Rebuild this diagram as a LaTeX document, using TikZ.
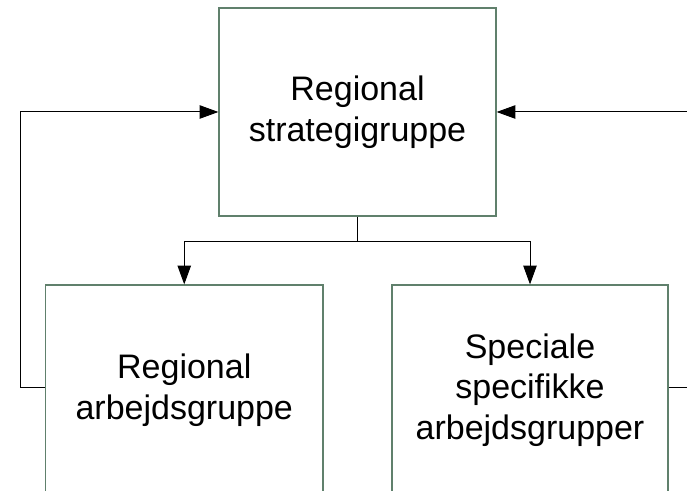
\documentclass[tikz,border=0pt]{standalone}
\usepackage{fontspec}
\setmainfont{Liberation Sans}
\usetikzlibrary{arrows.meta}
\definecolor{boxcol}{RGB}{96,128,108}
\begin{document}
\begin{tikzpicture}[x=0.75pt,y=-0.75pt,
  box/.style={draw=boxcol, line width=0.9pt, fill=white, inner sep=0pt, align=center,
              font=\fontsize{25.5}{30.5}\selectfont},
  conn/.style={draw=black, line width=0.75pt},
  arr/.style={conn, -{Triangle[length=14pt,width=10pt]}}]
\useasboundingbox (0,0) rectangle (687,491);
\clip (0,0) rectangle (687,491);
\node[box, minimum width=207.75pt, minimum height=156pt] (tbox) at (357.5,112) {Regional\\strategigruppe};
\node[box, minimum width=208pt, minimum height=157.5pt] (lbox) at (184.25,390) {Regional\\arbejdsgruppe};
\node[box, minimum width=207pt, minimum height=157.5pt] (rbox) at (530,390) {Speciale\\specifikke\\arbejdsgrupper};
\coordinate (lft) at (20,388);
\coordinate (rgt) at (690,388);
\coordinate (split) at (357.5,242);
\draw[arr] (lbox.west |- lft) -- (lft) |- (tbox.west);
\draw[arr] (rbox.east |- rgt) -- (rgt) |- (tbox.east);
\draw[conn] (tbox.south) -- (split);
\draw[arr] (split) -| (lbox.north);
\draw[arr] (split) -| (rbox.north);
\end{tikzpicture}
\end{document}
